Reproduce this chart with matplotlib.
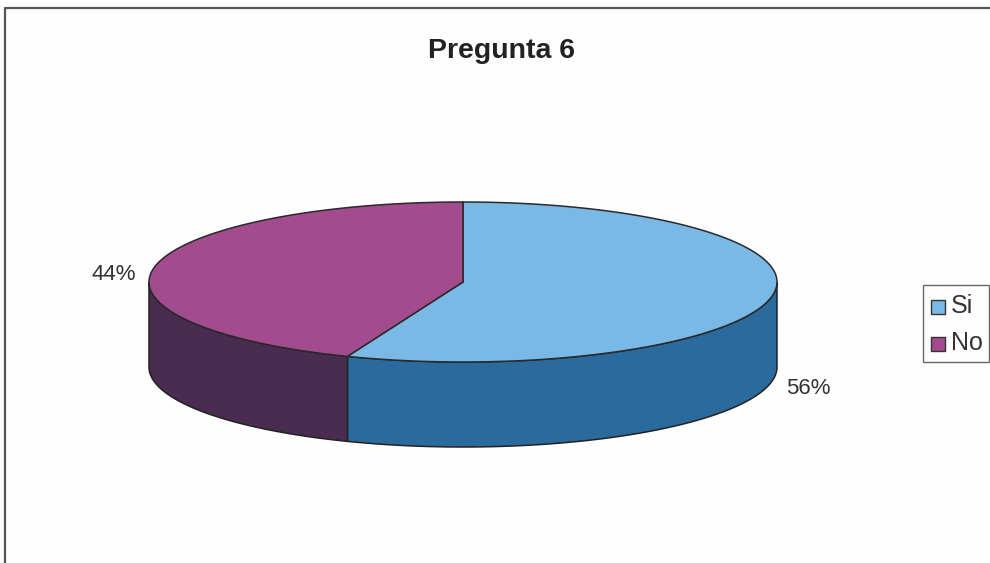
import numpy as np
import matplotlib
matplotlib.use('Agg')
import matplotlib.pyplot as plt
from matplotlib.patches import Rectangle

plt.rcParams['font.family'] = ['Liberation Sans', 'DejaVu Sans']

# data
categories = ['Si', 'No']
values = [56, 44]
labels = ['56%', '44%']
top_colors = ['#7ab8e6', '#a24b8e']
side_colors = ['#2a6a9c', '#4a2c50']

# pie geometry in pixels
cx, cy = 463, 282
rx, ry = 314, 80
depth = 85

fig = plt.figure(figsize=(9.9, 5.63), dpi=100, facecolor='#fefefe')
ax = fig.add_axes([0, 0, 1, 1])
ax.set_xlim(0, 990)
ax.set_ylim(563, 0)
ax.axis('off')

# outer chart frame
ax.plot([5, 5, 990], [563, 8, 8], color='#555555', lw=1.6)


def edge(a1, a2):
    t = np.radians(np.linspace(a1, a2, 200))
    return cx + rx*np.cos(t), cy - ry*np.sin(t)


# slices go clockwise from 12 o'clock
start = 90.
angles = []
for v in values:
    angles.append((start, start - v*3.6))
    start -= v*3.6

# side walls, only the part below the centre line shows
for (a1, a2), col in zip(angles, side_colors):
    lo = max(a2, -180)
    hi = min(a1, 0)
    if hi > lo:
        x, y = edge(hi, lo)
        ax.fill(np.r_[x, x[::-1]], np.r_[y, y[::-1] + depth],
                fc=col, ec='#222222', lw=1.1, zorder=2)

# top faces
for (a1, a2), col in zip(angles, top_colors):
    x, y = edge(a1, a2)
    ax.fill(np.r_[cx, x], np.r_[cy, y], fc=col, ec='#2a2a2a', lw=1.1, zorder=3)

# value labels
ax.text(808, 388, labels[0], fontsize=16, color='#333333', ha='center', va='center')
ax.text(114, 274, labels[1], fontsize=16, color='#333333', ha='center', va='center')

ax.text(502, 51, 'Pregunta 6', fontsize=20.5, fontweight='bold', color='#222222',
        ha='center', va='center')

# legend
ax.add_patch(Rectangle((923, 285), 66, 77, fc='none', ec='#666666', lw=1.0))
for i, (c, col) in enumerate(zip(categories, top_colors)):
    yy = 307 + i*37
    ax.add_patch(Rectangle((931, yy-7), 14, 14, fc=col, ec='#333333', lw=1.0))
    ax.text(951, yy-1, c, fontsize=18, color='#333333', va='center')

fig.savefig('out.png', dpi=100, facecolor=fig.get_facecolor())
